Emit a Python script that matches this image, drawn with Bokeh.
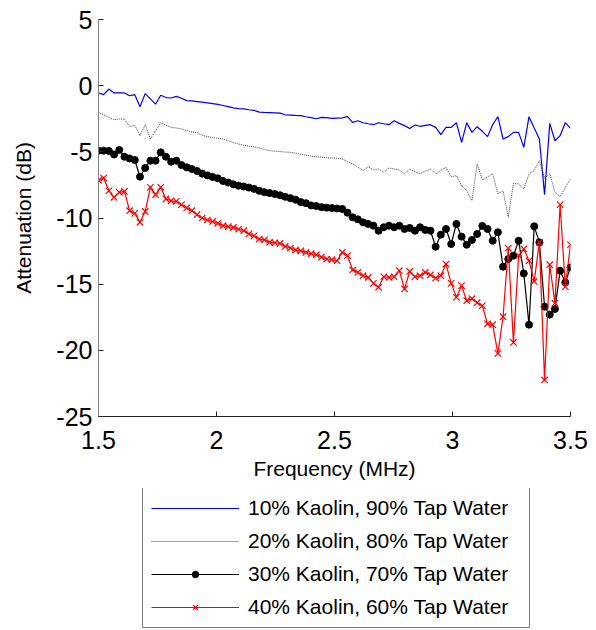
from bokeh.plotting import figure
from bokeh.models import Range1d, FixedTicker, Legend, LegendItem
from bokeh.layouts import column
from bokeh.embed import file_html
from bokeh.resources import INLINE

# ---- data ----
freq = [1.5000, 1.5220, 1.5440, 1.5659, 1.5879, 1.6099, 1.6319, 1.6538, 1.6758, 1.6978,
        1.7198, 1.7418, 1.7637, 1.7857, 1.8077, 1.8297, 1.8516, 1.8736, 1.8956, 1.9176,
        1.9396, 1.9615, 1.9835, 2.0055, 2.0275, 2.0495, 2.0714, 2.0934, 2.1154, 2.1374,
        2.1593, 2.1813, 2.2033, 2.2253, 2.2473, 2.2692, 2.2912, 2.3132, 2.3352, 2.3571,
        2.3791, 2.4011, 2.4231, 2.4451, 2.4670, 2.4890, 2.5110, 2.5330, 2.5549, 2.5769,
        2.5989, 2.6209, 2.6429, 2.6648, 2.6868, 2.7088, 2.7308, 2.7527, 2.7747, 2.7967,
        2.8187, 2.8407, 2.8626, 2.8846, 2.9066, 2.9286, 2.9505, 2.9725, 2.9945, 3.0165,
        3.0385, 3.0604, 3.0824, 3.1044, 3.1264, 3.1484, 3.1703, 3.1923, 3.2143, 3.2363,
        3.2582, 3.2802, 3.3022, 3.3242, 3.3462, 3.3681, 3.3901, 3.4121, 3.4341, 3.4560,
        3.4780, 3.5000]

kaolin10 = [-0.55, -0.68, -0.25, -0.55, -0.55, -0.55, -0.76, -0.68, -1.59, -0.60,
            -1.00, -1.40, -0.72, -0.90, -0.93, -0.81, -0.95, -1.13, -1.15, -1.20,
            -1.25, -1.30, -1.36, -1.42, -1.50, -1.58, -1.68, -1.73, -1.76, -1.82,
            -1.86, -2.00, -2.02, -2.03, -2.05, -2.08, -2.20, -2.22, -2.25, -2.27,
            -2.35, -2.42, -2.50, -2.40, -2.42, -2.47, -2.45, -2.44, -2.34, -2.77,
            -2.65, -2.80, -2.88, -2.95, -2.80, -2.88, -2.95, -2.65, -2.85, -3.02,
            -3.23, -2.97, -3.07, -3.00, -2.95, -3.15, -3.70, -3.15, -3.15, -2.80,
            -4.29, -2.80, -3.53, -3.10, -3.45, -3.85, -2.95, -2.34, -4.03, -3.85,
            -3.53, -3.53, -4.66, -2.34, -3.20, -4.03, -8.24, -2.85, -4.16, -3.78,
            -2.80, -3.23]

kaolin20 = [-2.02, -2.20, -2.40, -2.58, -2.52, -2.52, -3.10, -3.00, -3.78, -2.95,
            -4.03, -3.40, -2.82, -3.00, -3.15, -3.20, -3.27, -3.40, -3.50, -3.55,
            -3.75, -3.85, -3.92, -3.98, -4.03, -4.15, -4.30, -4.41, -4.50, -4.58,
            -4.62, -4.72, -4.82, -4.91, -4.95, -4.98, -5.02, -5.04, -5.10, -5.18,
            -5.25, -5.32, -5.37, -5.40, -5.44, -5.47, -5.49, -5.54, -5.75, -5.92,
            -6.15, -6.42, -6.12, -6.37, -6.30, -6.55, -6.22, -6.30, -6.37, -6.67,
            -6.30, -6.50, -6.67, -6.45, -6.30, -6.67, -6.40, -6.17, -6.88, -6.80,
            -7.56, -7.94, -8.69, -5.92, -7.13, -6.90, -6.63, -8.19, -7.94, -9.95,
            -7.38, -7.43, -7.80, -6.67, -6.42, -5.67, -6.98, -6.67, -8.06, -8.39,
            -7.70, -7.05]

kaolin30 = [-4.91, -4.91, -4.93, -5.20, -4.86, -5.37, -5.50, -5.62, -6.88, -6.22,
            -5.67, -5.67, -5.04, -5.37, -5.75, -5.67, -6.00, -6.17, -6.30, -6.45,
            -6.65, -6.78, -6.90, -7.00, -7.20, -7.32, -7.45, -7.56, -7.62, -7.70,
            -7.80, -7.95, -8.05, -8.12, -8.19, -8.28, -8.40, -8.50, -8.62, -8.80,
            -8.88, -9.05, -9.10, -9.18, -9.22, -9.25, -9.28, -9.32, -9.60, -9.95,
            -10.10, -10.33, -10.45, -10.58, -10.96, -10.70, -10.58, -10.70, -10.58, -10.83,
            -10.75, -10.96, -10.70, -10.90, -10.96, -12.17, -11.26, -10.83, -11.97, -10.45,
            -11.41, -12.02, -11.66, -11.21, -10.60, -10.83, -11.72, -11.08, -13.68, -13.10,
            -12.85, -11.72, -14.19, -18.06, -10.63, -11.84, -16.70, -17.30, -16.88, -13.98,
            -14.87, -13.73]

kaolin40 = [-7.15, -6.98, -7.94, -8.44, -8.06, -7.99, -9.45, -9.65, -10.33, -9.50,
            -7.68, -8.24, -7.68, -8.56, -8.70, -8.74, -9.00, -9.24, -9.45, -9.75,
            -10.00, -10.15, -10.26, -10.40, -10.58, -10.65, -10.71, -10.85, -10.96, -11.20,
            -11.35, -11.59, -11.65, -11.84, -11.88, -11.92, -12.15, -12.27, -12.42, -12.48,
            -12.60, -12.70, -12.77, -12.95, -13.10, -13.15, -13.23, -12.60, -12.85, -13.93,
            -14.11, -14.36, -14.49, -14.94, -15.24, -14.44, -14.49, -14.44, -13.98, -15.36,
            -14.04, -14.44, -14.36, -14.11, -14.30, -14.54, -14.36, -13.48, -14.94, -15.99,
            -15.11, -16.25, -16.10, -16.40, -16.63, -18.00, -18.06, -20.23, -17.46, -12.27,
            -19.40, -12.85, -12.34, -13.23, -14.79, -11.84, -22.24, -13.53, -16.45, -9.00,
            -15.19, -12.02]

series_labels = ["10% Kaolin, 90% Tap Water", "20% Kaolin, 80% Tap Water",
                 "30% Kaolin, 70% Tap Water", "40% Kaolin, 60% Tap Water"]

x_ticks = [1.5, 2.0, 2.5, 3.0, 3.5]
x_tick_labels = ["1.5", "2", "2.5", "3", "3.5"]
y_ticks = [-25, -20, -15, -10, -5, 0, 5]
y_tick_labels = ["-25", "-20", "-15", "-10", "-5", "0", "5"]

FONT = "Liberation Sans"

STYLES = [
    dict(line_color="#0000ff", line_width=1.2, line_dash="solid", marker=None),
    dict(line_color="#444444", line_width=1.0, line_dash="1 1", marker=None),
    dict(line_color="black", line_width=1.2, line_dash="solid", marker="circle"),
    dict(line_color="#ff0000", line_width=1.2, line_dash="solid", marker="x"),
]
all_series = [kaolin10, kaolin20, kaolin30, kaolin40]


def draw_series(fig, vals, st):
    rs = [fig.line(freq, vals, line_color=st["line_color"], line_width=st["line_width"],
                   line_dash=st["line_dash"])]
    if st["marker"] == "circle":
        rs.append(fig.scatter(freq, vals, marker="circle", size=7,
                              fill_color="black", line_color="black"))
    elif st["marker"] == "x":
        rs.append(fig.scatter(freq, vals, marker="x", size=9,
                              line_color="#ff0000", line_width=1.2))
    return rs


# ---------------- main chart ----------------
p = figure(frame_width=472, frame_height=397, output_backend="svg", toolbar_location=None,
           x_range=Range1d(1.5, 3.5), y_range=Range1d(-25, 5),
           min_border_left=98, min_border_right=26, min_border_top=19,
           min_border_bottom=72)
p.outline_line_color = None
p.xgrid.visible = False
p.ygrid.visible = False
p.background_fill_color = "white"
p.border_fill_color = "white"

for ax in (p.xaxis[0], p.yaxis[0]):
    ax.major_label_text_font = FONT
    ax.major_label_text_font_size = "25px"
    ax.major_label_text_color = "black"
    ax.axis_label_text_font = FONT
    ax.axis_label_text_font_size = "21px"
    ax.axis_label_text_font_style = "normal"
    ax.axis_label_text_color = "black"
    ax.major_tick_in = 5
    ax.major_tick_out = 0
    ax.minor_tick_line_color = None
    ax.major_tick_line_color = "#222222"

p.xaxis[0].ticker = FixedTicker(ticks=x_ticks)
p.xaxis[0].major_label_overrides = {t: s for t, s in zip(x_ticks, x_tick_labels)}
p.yaxis[0].ticker = FixedTicker(ticks=y_ticks)
p.yaxis[0].major_label_overrides = {t: s for t, s in zip(y_ticks, y_tick_labels)}
p.xaxis[0].axis_label = "Frequency (MHz)"
p.yaxis[0].axis_label = "Attenuation (dB)"
p.xaxis[0].axis_line_color = "#222222"
p.yaxis[0].axis_line_color = "#808080"
p.xaxis[0].major_label_standoff = 14
p.yaxis[0].major_label_standoff = 6
p.xaxis[0].axis_label_standoff = 5
p.yaxis[0].axis_label_standoff = 18

for vals, st in zip(all_series, STYLES):
    draw_series(p, vals, st)

# ---------------- legend panel (separate canvas below the axes) ----------------
# The same series are drawn here outside the visible range; only the legend shows.
lg = figure(width=596, height=142, output_backend="svg", toolbar_location=None,
            x_range=Range1d(0, 1), y_range=Range1d(0, 1),
            min_border_left=0, min_border_right=0, min_border_top=0, min_border_bottom=0)
lg.axis.visible = False
lg.xgrid.visible = False
lg.ygrid.visible = False
lg.outline_line_color = None
lg.background_fill_color = "white"
lg.border_fill_color = "white"

items = []
for label, vals, st in zip(series_labels, all_series, STYLES):
    items.append(LegendItem(label=label, renderers=draw_series(lg, vals, st)))

legend = Legend(items=items, location=(44, 2), orientation="vertical")
legend.label_text_font = FONT
legend.label_text_font_size = "21px"
legend.label_text_color = "black"
legend.glyph_width = 88
legend.glyph_height = 16
legend.label_height = 24
legend.label_width = 273
legend.spacing = 9
legend.padding = 8
legend.label_standoff = 9
legend.margin = 0
legend.border_line_color = "black"
legend.border_line_width = 1
legend.background_fill_color = "white"
legend.background_fill_alpha = 1
lg.add_layout(legend, "center")

layout = column(p, lg, spacing=0)
open("out.html", "w").write(file_html(layout, INLINE))
